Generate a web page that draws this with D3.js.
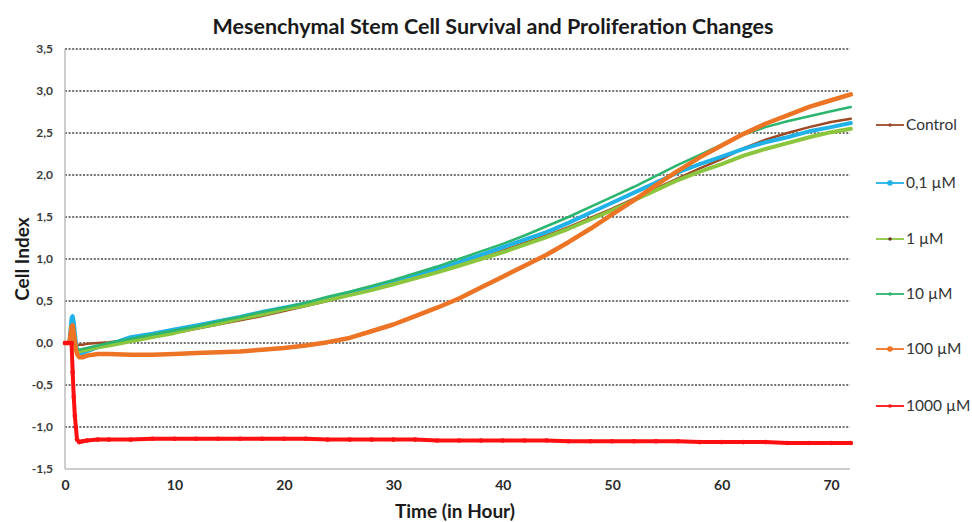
<!DOCTYPE html>
<html>
<head>
<meta charset="utf-8">
<script src="https://cdn.jsdelivr.net/npm/d3@7"></script>
<style>
    body { margin: 0; background: #fff; }
    svg { font-family: Lato, "Open Sans", sans-serif; }
</style>
</head>
<body>
<svg id="chart" width="972" height="522" viewBox="0 0 972 522"></svg>
<script>
// Time points (hours)
const hours = [0, 0.2, 0.4, 0.6, 0.7, 0.8, 0.9, 1.0, 1.1, 1.3, 1.6, 2, 3, 4,
    6, 8, 10, 12, 14, 16, 18, 20, 22, 24, 26, 28, 30, 32, 34, 36, 38, 40,
    42, 44, 46, 48, 50, 52, 54, 56, 58, 60, 62, 64, 66, 68, 70, 71.8]

// Cell index for each treatment
const control = [0, 0, 0, 0.05, 0.06, 0.03, 0.0, -0.01, -0.02, -0.02, -0.02, -0.01, 0.0, 0.01,
    0.04, 0.08, 0.12, 0.17, 0.22, 0.27, 0.32, 0.38, 0.44, 0.5, 0.57, 0.63, 0.7, 0.77, 0.85, 0.93, 1.01, 1.1,
    1.19, 1.28, 1.38, 1.49, 1.6, 1.72, 1.84, 1.96, 2.08, 2.19, 2.32, 2.42, 2.5, 2.57, 2.63, 2.67]
const dose01 = [0, 0, 0, 0.30, 0.32, 0.25, 0.12, 0.0, -0.08, -0.13, -0.12, -0.10, -0.05, -0.02,
    0.07, 0.11, 0.16, 0.21, 0.26, 0.31, 0.37, 0.42, 0.47, 0.53, 0.6, 0.66, 0.73, 0.8, 0.88, 0.96, 1.05, 1.14,
    1.23, 1.32, 1.43, 1.55, 1.67, 1.79, 1.91, 2.03, 2.13, 2.22, 2.31, 2.39, 2.45, 2.52, 2.57, 2.62]
const dose1 = [0, 0, 0, 0.14, 0.15, 0.08, 0.0, -0.05, -0.09, -0.10, -0.09, -0.08, -0.05, -0.03,
    0.02, 0.07, 0.12, 0.18, 0.23, 0.29, 0.34, 0.4, 0.45, 0.51, 0.57, 0.63, 0.7, 0.77, 0.84, 0.92, 1.0, 1.08,
    1.17, 1.26, 1.36, 1.47, 1.58, 1.7, 1.82, 1.94, 2.04, 2.13, 2.23, 2.31, 2.38, 2.45, 2.51, 2.55]
const dose10 = [0, 0, 0, 0.15, 0.16, 0.10, 0.02, -0.04, -0.07, -0.08, -0.07, -0.06, -0.03, 0.0,
    0.05, 0.1, 0.15, 0.2, 0.26, 0.31, 0.37, 0.42, 0.48, 0.55, 0.61, 0.68, 0.75, 0.83, 0.91, 1.0, 1.09, 1.18,
    1.28, 1.39, 1.5, 1.62, 1.74, 1.86, 1.99, 2.12, 2.24, 2.36, 2.48, 2.57, 2.64, 2.7, 2.76, 2.81]
const dose100 = [0, 0, 0, 0.20, 0.21, 0.12, 0.02, -0.07, -0.13, -0.17, -0.17, -0.15, -0.13, -0.13,
    -0.14, -0.14, -0.13, -0.12, -0.11, -0.10, -0.08, -0.06, -0.03, 0.01, 0.06, 0.14, 0.22, 0.32, 0.42, 0.53, 0.66, 0.79,
    0.92, 1.05, 1.2, 1.36, 1.53, 1.7, 1.88, 2.05, 2.21, 2.35, 2.49, 2.61, 2.71, 2.81, 2.89, 2.96]
const dose1000 = [0, 0, 0, 0, -0.35, -0.64, -0.87, -1.01, -1.15, -1.18, -1.17, -1.16, -1.15, -1.15,
    -1.15, -1.14, -1.14, -1.14, -1.14, -1.14, -1.14, -1.14, -1.14, -1.15, -1.15, -1.15, -1.15, -1.15, -1.16, -1.16, -1.16, -1.16,
    -1.16, -1.16, -1.17, -1.17, -1.17, -1.17, -1.17, -1.17, -1.18, -1.18, -1.18, -1.18, -1.19, -1.19, -1.19, -1.19]

const seriesNames = ["Control", "0,1 µM", "1 µM", "10 µM", "100 µM", "1000 µM"]
const seriesColors = ["#9c4a25", "#1fb1e8", "#8cc63f", "#2bb56e", "#ed7424", "#ff1010"]
const seriesWidths = [2.5, 4, 4, 2.5, 4.5, 4]
const yTicks = [-1.5, -1.0, -0.5, 0.0, 0.5, 1.0, 1.5, 2.0, 2.5, 3.0, 3.5]
const xTicks = [0, 10, 20, 30, 40, 50, 60, 70]

const series = [control, dose01, dose1, dose10, dose100, dose1000].map((vals, i) => ({
    name: seriesNames[i],
    color: seriesColors[i],
    width: seriesWidths[i],
    points: vals.map((v, j) => ({ t: hours[j], v: v }))
}))

const svg = d3.select("#chart")
const fmt = d => d3.format(".1f")(d).replace(".", ",").replace("−", "-")

// Scales
const x = d3.scaleLinear().domain([0, 72]).range([65, 853])
const y = d3.scaleLinear().domain([-1.5, 3.5]).range([469, 49])

// Title
svg.append("text")
    .attr("x", 493).attr("y", 34)
    .attr("text-anchor", "middle")
    .attr("font-size", 21.5).attr("font-weight", "bold")
    .attr("fill", "#1a1a1a")
    .text("Mesenchymal Stem Cell Survival and Proliferation Changes")

// Dashed grid lines
svg.append("g")
    .selectAll("line")
    .data(yTicks.filter(d => d > -1.5))
    .enter()
    .append("line")
    .attr("x1", x(0)).attr("x2", 850)
    .attr("y1", d => y(d)).attr("y2", d => y(d))
    .attr("stroke", "#444")
    .attr("stroke-width", 1.3)
    .attr("stroke-dasharray", "2,1.6")

// Axis lines
svg.append("line")
    .attr("x1", x(0)).attr("x2", 850)
    .attr("y1", y(-1.5)).attr("y2", y(-1.5))
    .attr("stroke", "#bdbdbd").attr("stroke-width", 1.5)
svg.append("line")
    .attr("x1", x(0)).attr("x2", x(0))
    .attr("y1", y(3.5)).attr("y2", y(-1.5))
    .attr("stroke", "#bdbdbd").attr("stroke-width", 1.5)

// Y tick labels
const yAxis = svg.append("g")
    .attr("transform", "translate(56,0)")
    .call(d3.axisLeft(y).tickValues(yTicks).tickSize(0).tickFormat(fmt))
yAxis.select(".domain").remove()
yAxis.selectAll("text")
    .attr("font-family", "Lato, sans-serif")
    .attr("font-size", 12).attr("font-weight", "bold")
    .attr("fill", "#3a3a3a")

// X tick labels
const xAxis = svg.append("g")
    .attr("transform", "translate(0,477)")
    .call(d3.axisBottom(x).tickValues(xTicks).tickSize(0).tickFormat(d3.format("d")))
xAxis.select(".domain").remove()
xAxis.selectAll("text")
    .attr("font-family", "Lato, sans-serif")
    .attr("font-size", 14).attr("font-weight", "bold")
    .attr("fill", "#2a2a2a")

// Axis titles
svg.append("text")
    .attr("transform", "translate(29,259) rotate(-90)")
    .attr("text-anchor", "middle")
    .attr("font-size", 19).attr("font-weight", "bold")
    .attr("fill", "#1a1a1a")
    .text("Cell Index")
svg.append("text")
    .attr("x", 455).attr("y", 518)
    .attr("text-anchor", "middle")
    .attr("font-size", 19).attr("font-weight", "bold")
    .attr("fill", "#1a1a1a")
    .text("Time (in Hour)")

// Lines
const line = d3.line()
    .x(d => x(d.t))
    .y(d => y(d.v))

const plot = svg.append("g")
plot.selectAll(".series")
    .data(series)
    .enter()
    .append("path")
    .attr("class", "series")
    .attr("d", d => line(d.points))
    .attr("fill", "none")
    .attr("stroke", d => d.color)
    .attr("stroke-width", d => d.width)
    .attr("stroke-linejoin", "round")
    .attr("stroke-linecap", "round")

// Markers on the 1000 µM series
plot.selectAll(".marker")
    .data(series[5].points)
    .enter()
    .append("circle")
    .attr("cx", d => x(d.t))
    .attr("cy", d => y(d.v))
    .attr("r", 2.3)
    .attr("fill", series[5].color)

// Legend
const legendY = [125, 183, 239, 294, 349, 406]
const legend = svg.append("g")
    .selectAll("g")
    .data(series)
    .enter()
    .append("g")
    .attr("transform", (d, i) => `translate(876,${legendY[i]})`)
legend.append("line")
    .attr("x1", 0).attr("x2", 28)
    .attr("stroke", d => d.color)
    .attr("stroke-width", 1.8)
legend.append("circle")
    .attr("cx", 14).attr("r", (d, i) => (i === 1 || i === 4) ? 2.8 : 1.8)
    .attr("fill", (d, i) => i === 2 ? "#6b3a2a" : d.color)
legend.append("text")
    .attr("x", 30).attr("dy", "0.35em")
    .attr("font-size", 15.5)
    .attr("fill", "#333")
    .text(d => d.name)
</script>
</body>
</html>
